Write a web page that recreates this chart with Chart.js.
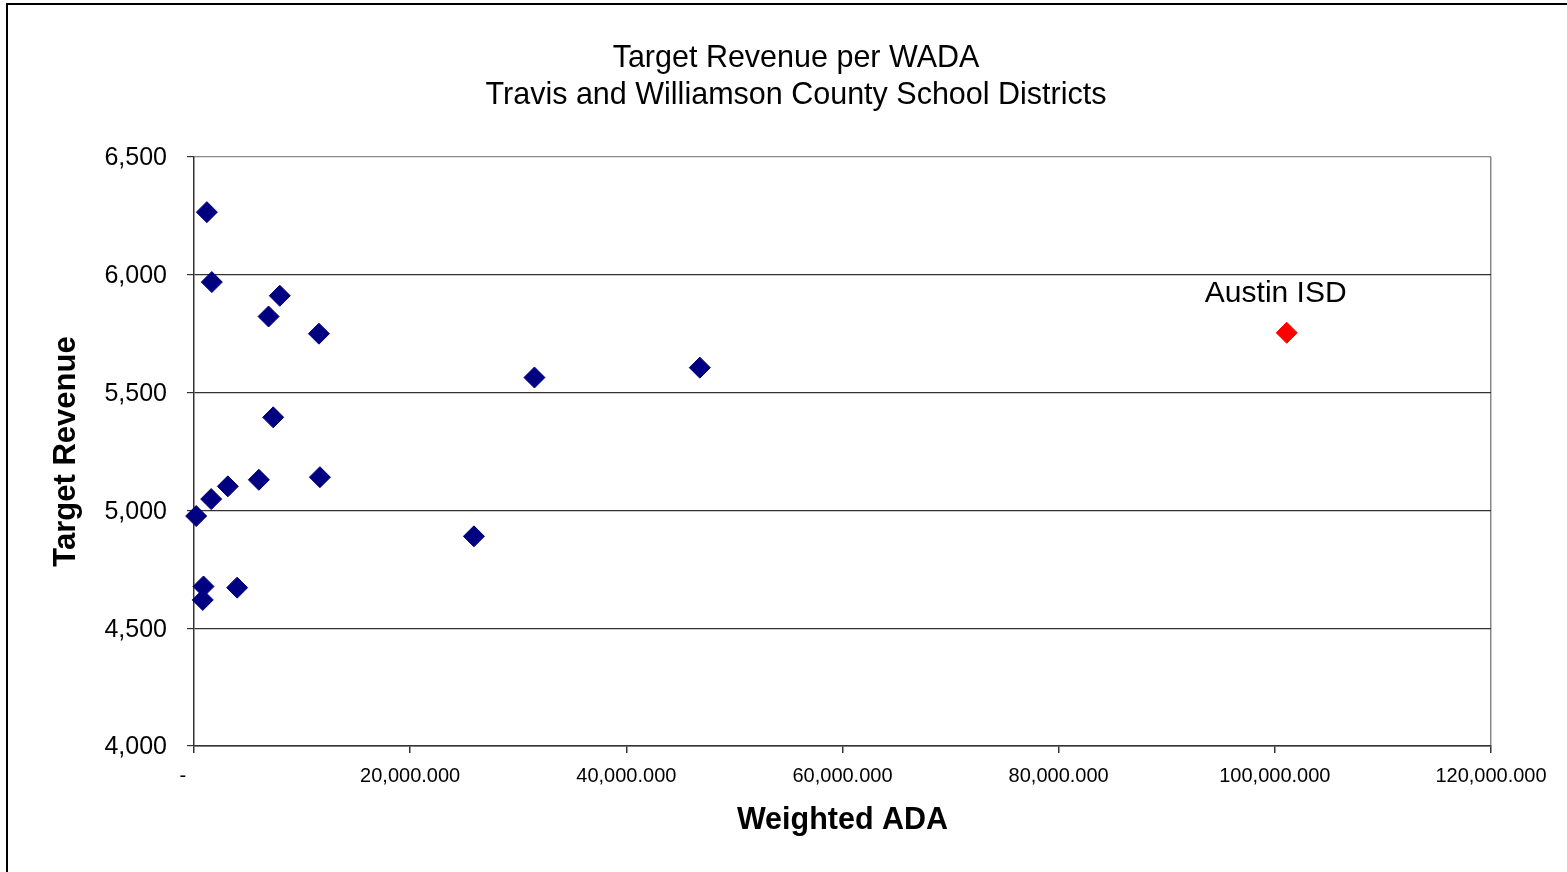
<!DOCTYPE html>
<html>
<head>
<meta charset="utf-8">
<title>Target Revenue per WADA</title>
<script src="https://cdn.jsdelivr.net/npm/chart.js@4"></script>
<style>
  html, body { margin: 0; padding: 0; background: #fff; overflow: hidden; }
  #wrap { position: relative; width: 1567px; height: 872px; }
  #frame { position: absolute; left: 6px; top: 3px; width: 1700px; height: 1000px; border: 2px solid #000; pointer-events: none; }
</style>
</head>
<body>
<div id="wrap">
  <canvas id="chart" width="1567" height="872"></canvas>
  <div id="frame"></div>
</div>
<script>
  // districts: weighted ADA (in millions, as shown on axis) and target revenue
  const districtAda = [1.19, 1.65, 7.94, 6.90, 11.56, 46.8, 31.5, 7.33, 11.65, 6.0, 3.13, 1.59, 0.2, 25.9, 0.88, 3.99, 0.81];
  const districtRevenue = [6266, 5969, 5911, 5823, 5750, 5606, 5564, 5395, 5141, 5130, 5102, 5048, 4976, 4890, 4677, 4672, 4620];

  const austinAda = [101.1];
  const austinRevenue = [5754];
  const austinLabel = 'Austin ISD';

  const titleLines = ['Target Revenue per WADA', 'Travis and Williamson County School Districts'];
  const xTitle = 'Weighted ADA';
  const yTitle = 'Target Revenue';
  const xTickLabels = ['-    ', '20,000.000', '40,000.000', '60,000.000', '80,000.000', '100,000.000', '120,000.000'];
  const yTickLabels = ['4,000', '4,500', '5,000', '5,500', '6,000', '6,500'];

  const FONT = '"Liberation Sans", Arial, sans-serif';
  const M = 1000000;

  const toPoints = (xs, ys) => xs.map((x, i) => ({ x: x * M, y: ys[i] }));

  // chart title (centred on the whole sheet, not the plot) + Austin ISD callout
  const textBits = {
    id: 'textBits',
    afterDraw(chart) {
      const ctx = chart.ctx;
      ctx.save();
      ctx.fillStyle = '#000';
      ctx.textAlign = 'center';
      ctx.textBaseline = 'middle';
      ctx.font = '30.5px ' + FONT;
      titleLines.forEach((t, i) => ctx.fillText(t, 796, 58.5 + i * 37));

      const pt = chart.getDatasetMeta(1).data[0];
      if (pt) {
        ctx.font = '30px ' + FONT;
        ctx.fillText(austinLabel, pt.x - 11, pt.y - 39.5);
      }
      ctx.restore();
    }
  };

  new Chart(document.getElementById('chart').getContext('2d'), {
    type: 'scatter',
    data: {
      datasets: [{
        data: toPoints(districtAda, districtRevenue),
        pointStyle: 'rectRot',
        pointRadius: 10.5,
        pointHoverRadius: 10.5,
        pointBorderWidth: 1,
        backgroundColor: '#000080',
        borderColor: '#000080',
        clip: false
      }, {
        data: toPoints(austinAda, austinRevenue),
        pointStyle: 'rectRot',
        pointRadius: 10.5,
        pointHoverRadius: 10.5,
        pointBorderWidth: 1,
        backgroundColor: '#ff0000',
        borderColor: '#ff0000',
        clip: false
      }]
    },
    options: {
      responsive: false,
      animation: false,
      events: [],
      layout: { padding: { left: 0, right: 76, top: 157, bottom: 0 } },
      plugins: {
        legend: { display: false },
        tooltip: { enabled: false },
        title: { display: false }
      },
      scales: {
        x: {
          type: 'linear',
          min: 0,
          max: 120 * M,
          afterFit: (s) => { s.height = 126; },
          ticks: {
            stepSize: 20 * M,
            padding: 11,
            color: '#000',
            font: { family: FONT, size: 20 },
            maxRotation: 0,
            callback: (v, i) => xTickLabels[i]
          },
          grid: {
            color: (c) => c.tick && c.tick.value === 120 * M ? '#888' : 'rgba(0,0,0,0)',
            tickColor: '#333',
            tickLength: 7,
            lineWidth: 1.5
          },
          border: { color: '#333', width: 1.5 },
          title: {
            display: true,
            text: xTitle,
            color: '#000',
            font: { family: FONT, size: 30.5, weight: 'bold' },
            padding: { top: 0, bottom: 33 }
          }
        },
        y: {
          min: 4000,
          max: 6500,
          afterFit: (s) => { s.width = 194; },
          ticks: {
            stepSize: 500,
            padding: 20,
            labelOffset: 1.5,
            color: '#000',
            font: { family: FONT, size: 25 },
            callback: (v, i) => yTickLabels[i]
          },
          grid: {
            color: (c) => c.tick && c.tick.value === 6500 ? '#888' : '#333',
            tickColor: '#333',
            tickLength: 7,
            lineWidth: 1.2
          },
          border: { color: '#333', width: 1.5 },
          title: {
            display: true,
            text: yTitle,
            color: '#000',
            font: { family: FONT, size: 31, weight: 'bold' },
            padding: { top: 48, bottom: 0 }
          }
        }
      }
    },
    plugins: [textBits]
  });
</script>
</body>
</html>
